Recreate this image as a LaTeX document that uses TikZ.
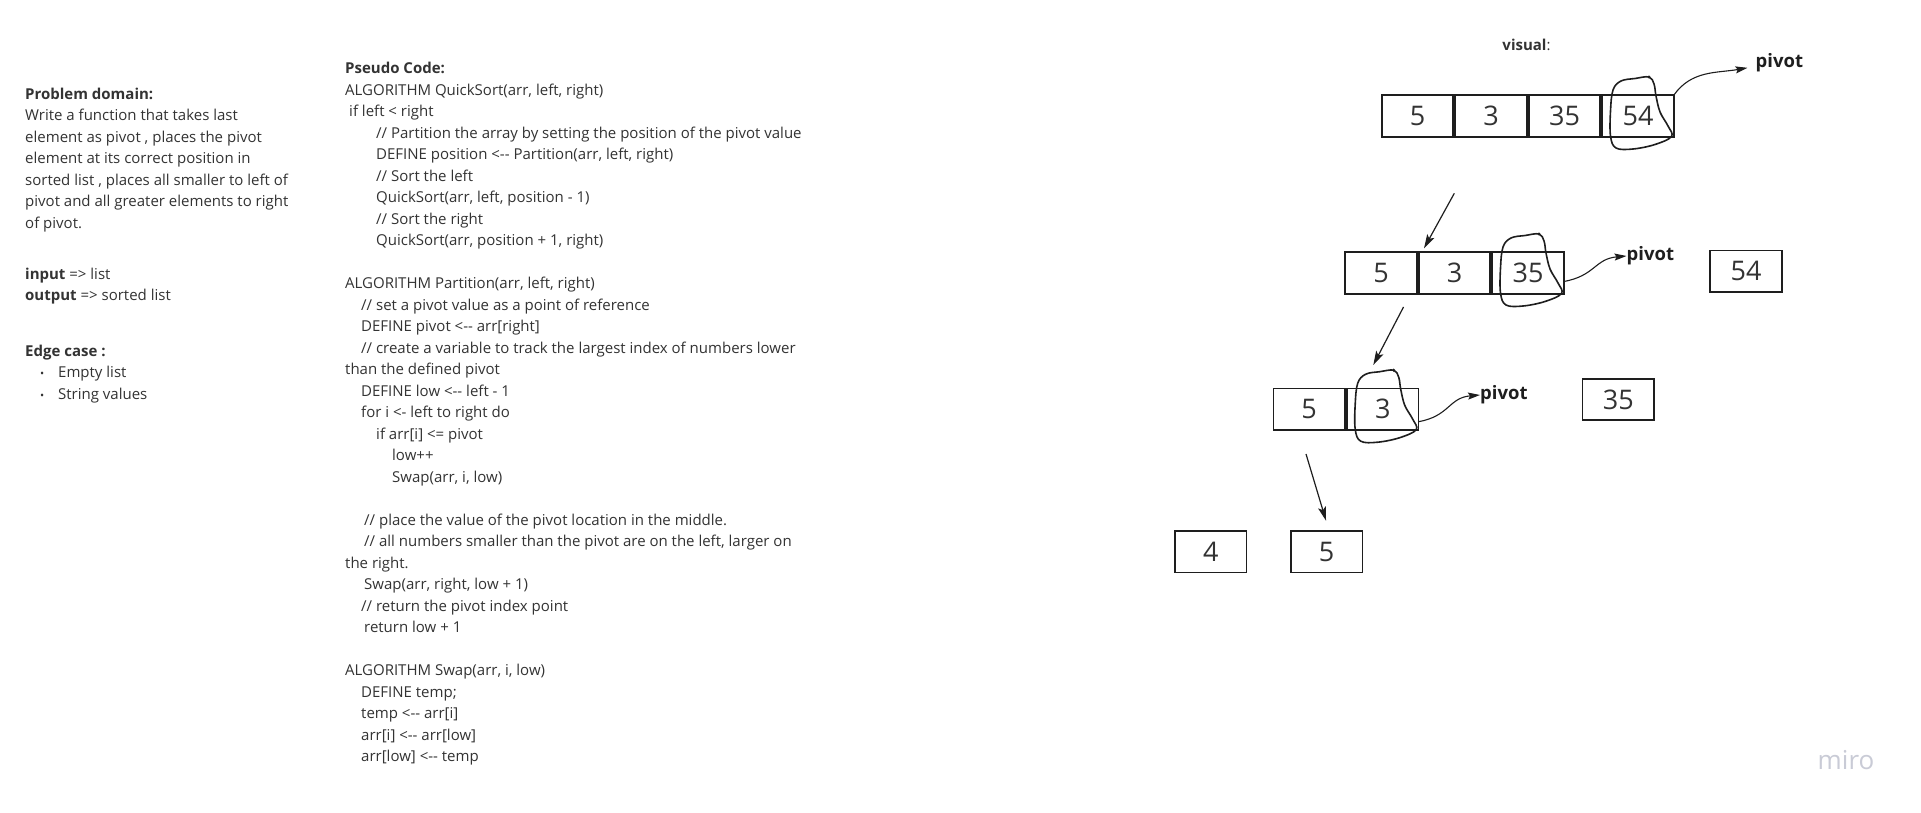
\documentclass[tikz,border=0pt]{standalone}
\usepackage{fontspec}
\setmainfont{Open Sans}[Ligatures=TeXOff]
\usetikzlibrary{positioning,arrows.meta}
\definecolor{txt}{HTML}{333333}
\definecolor{ink}{HTML}{1E1E1E}
\definecolor{wmark}{HTML}{C9CBD6}
\tikzset{
  cell/.style={draw=ink, line width=1.8pt, minimum width=71.5pt, minimum height=41.5pt,
    inner sep=0pt, outer sep=0pt, text=txt, font=\fontsize{27}{27}\selectfont},
  note/.style={align=left, anchor=base west, inner sep=0pt, text=txt,
    font=\fontsize{15}{21.5}\selectfont},
  pivlabel/.style={anchor=west, inner sep=0pt, text=ink, font=\fontsize{18.5}{20}\selectfont\bfseries},
  down/.style={draw=ink, line width=1.2pt, -{Stealth[length=14pt,width=8pt,inset=3pt]}},
  pivarr/.style={draw=ink, line width=1.1pt, -{Stealth[length=12pt,width=7pt,inset=2pt]}},
  lasso/.pic={
    \draw[ink, line width=1.6pt, line cap=round, line join=round]
      plot[smooth cycle, tension=0.6] coordinates {(11,-39) (-3,-37.5) (-17,-35) (-25,-26)
        (-27.5,-5) (-27.5,20) (-22,32) (-5,33) (17,28.5) (33.5,20.5) (30,10) (22,-4) (18,-20) (16,-32)};
    \fill[ink] (11,-39) circle (1.7pt);
  }
}
\begin{document}
\begin{tikzpicture}[x=1pt, y=-1pt]
\fill[white] (0,0) rectangle (1921,813);
\useasboundingbox (0,0) rectangle (1921,813);

% text blocks sit on the baseline of their last line
\node[note] (pd) at (25,228.3) {\textbf{Problem domain:}\\Write a function that takes last\\element as pivot , places the pivot\\element at its correct position in\\sorted list , places all smaller to left of\\pivot and all greater elements to right\\of pivot.};
\node[note] (io) at (25,300.8) {\textbf{input} => list\\\textbf{output} => sorted list};
\node[note] (ec) at (25,399) {\textbf{Edge case :}\\\hspace*{15pt}\makebox[18pt][l]{\fontsize{11}{11}\selectfont •}Empty list\\\hspace*{15pt}\makebox[18pt][l]{\fontsize{11}{11}\selectfont •}String values};

\node[note] (ps) at (345,761.5) {\textbf{Pseudo Code:}\\
ALGORITHM QuickSort(arr, left, right)\\
\hspace*{4pt}if left < right\\
\hspace*{31pt}// Partition the array by setting the position of the pivot value\\
\hspace*{31pt}DEFINE position <-- Partition(arr, left, right)\\
\hspace*{31pt}// Sort the left\\
\hspace*{31pt}QuickSort(arr, left, position - 1)\\
\hspace*{31pt}// Sort the right\\
\hspace*{31pt}QuickSort(arr, position + 1, right)\\[21.5pt]
ALGORITHM Partition(arr, left, right)\\
\hspace*{16pt}// set a pivot value as a point of reference\\
\hspace*{16pt}DEFINE pivot <-- arr[right]\\
\hspace*{16pt}// create a variable to track the largest index of numbers lower\\
than the defined pivot\\
\hspace*{16pt}DEFINE low <-- left - 1\\
\hspace*{16pt}for i <- left to right do\\
\hspace*{31pt}if arr[i] <= pivot\\
\hspace*{47pt}low++\\
\hspace*{47pt}Swap(arr, i, low)\\[21.5pt]
\hspace*{19pt}// place the value of the pivot location in the middle.\\
\hspace*{19pt}// all numbers smaller than the pivot are on the left, larger on\\
the right.\\
\hspace*{19pt}Swap(arr, right, low + 1)\\
\hspace*{16pt}// return the pivot index point\\
\hspace*{19pt}return low + 1\\[21.5pt]
ALGORITHM Swap(arr, i, low)\\
\hspace*{16pt}DEFINE temp;\\
\hspace*{16pt}temp <-- arr[i]\\
\hspace*{16pt}arr[i] <-- arr[low]\\
\hspace*{16pt}arr[low] <-- temp};

\node[text=txt, font=\fontsize{15}{15}\selectfont] (vis) at (1526.5,45) {\textbf{visual}:};

\node[cell] (t1) at (1417.5,116) {5};
\node[cell, right=2pt of t1] (t2) {3};
\node[cell, right=2pt of t2] (t3) {35};
\node[cell, right=2pt of t3] (t4) {54};
\pic at (t4) {lasso};
\node[pivlabel] (piv1) at (1755.5,63) {pivot};
\draw[pivarr] (t4.north east) to[out=55, in=190] ([xshift=-8pt]piv1.base west);

\node[cell] (m1) at (1381,273) {5};
\node[cell, right=2pt of m1] (m2) {3};
\node[cell, right=2pt of m2] (m3) {35};
\node[cell] (m4) at (1746,271.2) {54};
\pic at (m3) {lasso};
\node[pivlabel] (piv2) at (1626.5,256) {pivot};
\draw[pivarr] ([yshift=-8.5pt]m3.east) to[out=10, in=185, looseness=1.2] (piv2.west);

\node[cell] (l1) at (1309.2,409.2) {5};
\node[cell, right=2pt of l1] (l2) {3};
\node[cell] (l3) at (1618.3,399.5) {35};
\pic at (l2) {lasso};
\node[pivlabel] (piv3) at (1480,395) {pivot};
\draw[pivarr] ([yshift=-12.5pt]l2.east) to[out=10, in=185, looseness=1.2] (piv3.west);

\node[cell] (b1) at (1210.8,551.7) {4};
\node[cell] (b2) at (1326.7,551.7) {5};

\coordinate (s1) at (1454.3,193.3);
\coordinate (e1) at (1424,248.3);
\coordinate (s2) at (1403.5,307);
\coordinate (e2) at (1373.3,365);
\coordinate (s3) at (1306,454);
\coordinate (e3) at (1326,520.7);
\draw[down] (s1) -- (e1);
\draw[down] (s2) -- (e2);
\draw[down] (s3) -- (e3);

\node[text=wmark, font=\fontsize{26}{26}\selectfont] (miro) at (1846,760) {miro};
\end{tikzpicture}
\end{document}
